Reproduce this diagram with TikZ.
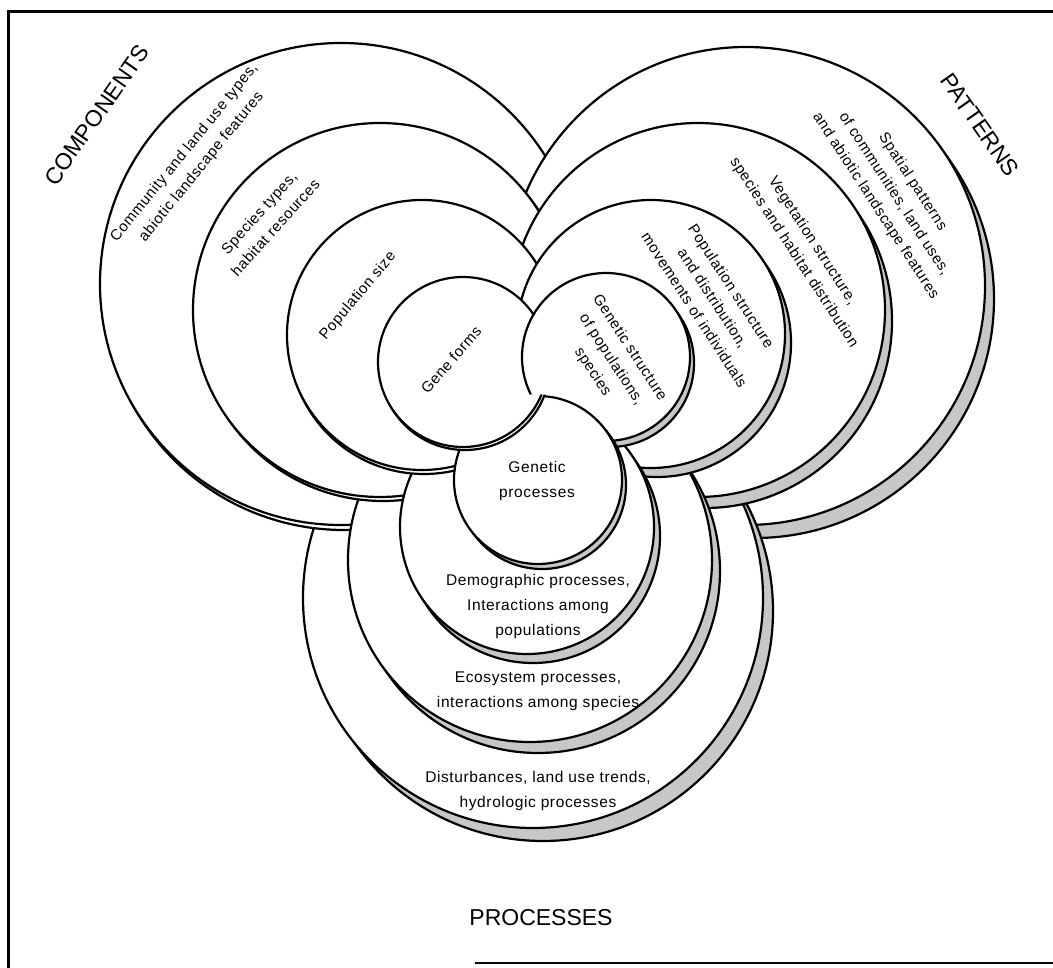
\documentclass[tikz,border=0pt]{standalone}
\usepackage{fontspec}
\setmainfont{Liberation Sans}
\newfontfamily\labelfont[LetterSpace=4]{Liberation Sans}
\definecolor{rimgray}{gray}{0.78}
\tikzset{
  disc/.style={draw, line width=2.2pt, fill=white},
  rim/.style={draw, line width=2.2pt},
  lbl/.style={font=\labelfont\fontsize{15}{22}\selectfont, align=center, inner sep=0pt},
  flat/.style={font=\labelfont\fontsize{15.5}{25}\selectfont, align=center, inner sep=0pt},
  head/.style={font=\fontsize{23}{26}\selectfont, inner sep=0pt},
}
% one disc with its thickness showing on the lower right
\newcommand{\layer}[6]{%
  \path[rim, fill=#6] ({#1+#4},{#2+#5}) circle (#3);
  \path[disc] (#1,#2) circle (#3);
}

\begin{document}
\begin{tikzpicture}[x=1pt, y=-1pt]
\useasboundingbox (0,0) rectangle (1053,968);
\draw[line width=3pt] (1053,12) -- (8,12) -- (8,968);
\draw[line width=2.5pt] (475,963) -- (1053,963);

% level by level: components, patterns, processes
\foreach \cx/\cy/\cr/\cdx/\cdy/\px/\py/\pr/\pdx/\pdy/\qx/\qy/\qr/\qdx/\qdy in {
    341/284/241/3/5/746/286/239/9/13/533/598/230/10/13,
    380/310/187/3/4/698/310/187/7/11/530/560/182/8/11,
    422/335/135/2/4/651/334/134/6/9/527/527/127/6/9,
    463/362/85/2/3/606/357/84/4/6/538/480/84/4/5}
{
  \layer{\cx}{\cy}{\cr}{\cdx}{\cdy}{white}
  \layer{\px}{\py}{\pr}{\pdx}{\pdy}{rimgray}
  \layer{\qx}{\qy}{\qr}{\qdx}{\qdy}{rimgray}
  \begin{scope}
    \clip (\qx,\qy) circle ({\qr+1.6});
    \layer{\cx}{\cy}{\cr}{\cdx}{\cdy}{white}
  \end{scope}
}

% components
\node[head, rotate=55] (comp) at (97,115) {COMPONENTS};
\node[lbl, rotate=51] (comp1) at (193,160) {Community and land use types,\\abiotic landscape features};
\node[lbl, rotate=48] (comp2) at (267,220) {Species types,\\habitat resources};
\node[lbl, rotate=50] (comp3) at (358,296) {Population size};
\node[lbl, rotate=49] (comp4) at (451,360) {Gene forms};

% patterns
\node[head, rotate=-55] (patt) at (980,125) {PATTERNS};
\node[lbl, rotate=-57] (patt1) at (894,194) {Spatial patterns\\of communities, land uses,\\and abiotic landscape features};
\node[lbl, rotate=-57] (patt2) at (803,247) {Vegetation structure,\\species and habitat distribution};
\node[lbl, rotate=-57] (patt3) at (713,298) {Population structure\\and distribution,\\movements of individuals};
\node[lbl, rotate=-57] (patt4) at (611,360) {Genetic structure\\of populations,\\species};

% processes
\node[head] (proc) at (541,918) {PROCESSES};
\node[flat] (proc4) at (537,481) {Genetic\\processes};
\node[flat] (proc3) at (538,606) {Demographic processes,\\Interactions among\\populations};
\node[flat] (proc2) at (538,691) {Ecosystem processes,\\interactions among species};
\node[flat] (proc1) at (538,791) {Disturbances, land use trends,\\hydrologic processes};
\end{tikzpicture}
\end{document}
